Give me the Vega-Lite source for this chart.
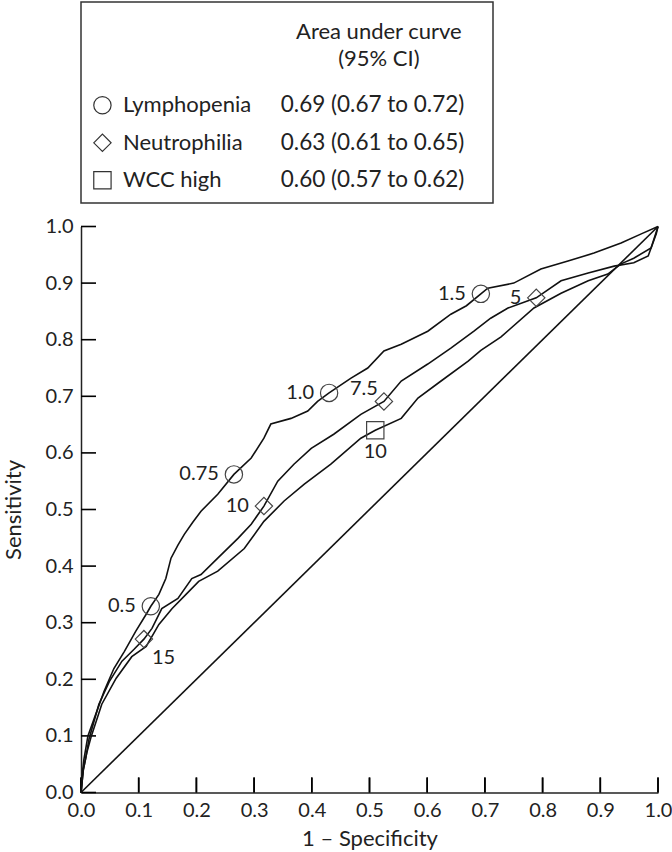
{
  "$schema": "https://vega.github.io/schema/vega-lite/v6.json",
  "padding": {"left": 2, "top": 1, "right": 0, "bottom": 0},
  "background": "white",
  "bounds": "flush",
  "spacing": 23.5,
  "config": {
    "font": "Lato",
    "view": {"stroke": null},
    "text": {"font": "Lato", "fontSize": 20, "color": "#222"}
  },
  "datasets": {
    "diag": [{"x": 0, "y": 0}, {"x": 1, "y": 1}],
    "tickvals": [
      {"v": 0}, {"v": 0.1}, {"v": 0.2}, {"v": 0.3}, {"v": 0.4}, {"v": 0.5},
      {"v": 0.6}, {"v": 0.7}, {"v": 0.8}, {"v": 0.9}, {"v": 1}
    ],
    "table": [
      {"row": 1, "series": "Lymphopenia", "auc": "0.69 (0.67 to 0.72)"},
      {"row": 2, "series": "Neutrophilia", "auc": "0.63 (0.61 to 0.65)"},
      {"row": 3, "series": "WCC high", "auc": "0.60 (0.57 to 0.62)"}
    ],
    "points": [
      {"series": "Lymphopenia", "x": 0.121, "y": 0.329, "label": "0.5"},
      {"series": "Lymphopenia", "x": 0.265, "y": 0.562, "label": "0.75"},
      {"series": "Lymphopenia", "x": 0.43, "y": 0.706, "label": "1.0"},
      {"series": "Lymphopenia", "x": 0.693, "y": 0.881, "label": "1.5"},
      {"series": "Neutrophilia", "x": 0.109, "y": 0.271, "label": "15"},
      {"series": "Neutrophilia", "x": 0.317, "y": 0.506, "label": "10"},
      {"series": "Neutrophilia", "x": 0.525, "y": 0.691, "label": "7.5"},
      {"series": "Neutrophilia", "x": 0.789, "y": 0.874, "label": "5"},
      {"series": "WCC high", "x": 0.51, "y": 0.64, "label": "10"}
    ],
    "curves": [
      {"series": "Lymphopenia", "x": 0, "y": 0},
      {"series": "Lymphopenia", "x": 0.003, "y": 0.04},
      {"series": "Lymphopenia", "x": 0.005, "y": 0.058},
      {"series": "Lymphopenia", "x": 0.012, "y": 0.1},
      {"series": "Lymphopenia", "x": 0.023, "y": 0.131},
      {"series": "Lymphopenia", "x": 0.04, "y": 0.179},
      {"series": "Lymphopenia", "x": 0.057, "y": 0.219},
      {"series": "Lymphopenia", "x": 0.075, "y": 0.249},
      {"series": "Lymphopenia", "x": 0.095, "y": 0.285},
      {"series": "Lymphopenia", "x": 0.113, "y": 0.315},
      {"series": "Lymphopenia", "x": 0.121, "y": 0.329},
      {"series": "Lymphopenia", "x": 0.135, "y": 0.35},
      {"series": "Lymphopenia", "x": 0.147, "y": 0.378},
      {"series": "Lymphopenia", "x": 0.156, "y": 0.414},
      {"series": "Lymphopenia", "x": 0.168, "y": 0.437},
      {"series": "Lymphopenia", "x": 0.179, "y": 0.456},
      {"series": "Lymphopenia", "x": 0.194, "y": 0.478},
      {"series": "Lymphopenia", "x": 0.208, "y": 0.497},
      {"series": "Lymphopenia", "x": 0.237, "y": 0.527},
      {"series": "Lymphopenia", "x": 0.265, "y": 0.562},
      {"series": "Lymphopenia", "x": 0.295, "y": 0.591},
      {"series": "Lymphopenia", "x": 0.317, "y": 0.626},
      {"series": "Lymphopenia", "x": 0.329, "y": 0.651},
      {"series": "Lymphopenia", "x": 0.364, "y": 0.661},
      {"series": "Lymphopenia", "x": 0.393, "y": 0.674},
      {"series": "Lymphopenia", "x": 0.41, "y": 0.691},
      {"series": "Lymphopenia", "x": 0.43, "y": 0.706},
      {"series": "Lymphopenia", "x": 0.468, "y": 0.732},
      {"series": "Lymphopenia", "x": 0.497, "y": 0.75},
      {"series": "Lymphopenia", "x": 0.525, "y": 0.78},
      {"series": "Lymphopenia", "x": 0.555, "y": 0.792},
      {"series": "Lymphopenia", "x": 0.601, "y": 0.815},
      {"series": "Lymphopenia", "x": 0.641, "y": 0.845},
      {"series": "Lymphopenia", "x": 0.668, "y": 0.86},
      {"series": "Lymphopenia", "x": 0.693, "y": 0.881},
      {"series": "Lymphopenia", "x": 0.705, "y": 0.891},
      {"series": "Lymphopenia", "x": 0.75, "y": 0.9},
      {"series": "Lymphopenia", "x": 0.797, "y": 0.925},
      {"series": "Lymphopenia", "x": 0.844, "y": 0.939},
      {"series": "Lymphopenia", "x": 0.889, "y": 0.953},
      {"series": "Lymphopenia", "x": 0.936, "y": 0.971},
      {"series": "Lymphopenia", "x": 0.971, "y": 0.987},
      {"series": "Lymphopenia", "x": 1, "y": 1},
      {"series": "Neutrophilia", "x": 0, "y": 0},
      {"series": "Neutrophilia", "x": 0.004, "y": 0.04},
      {"series": "Neutrophilia", "x": 0.008, "y": 0.06},
      {"series": "Neutrophilia", "x": 0.014, "y": 0.095},
      {"series": "Neutrophilia", "x": 0.031, "y": 0.156},
      {"series": "Neutrophilia", "x": 0.049, "y": 0.196},
      {"series": "Neutrophilia", "x": 0.071, "y": 0.232},
      {"series": "Neutrophilia", "x": 0.092, "y": 0.253},
      {"series": "Neutrophilia", "x": 0.109, "y": 0.271},
      {"series": "Neutrophilia", "x": 0.123, "y": 0.29},
      {"series": "Neutrophilia", "x": 0.14, "y": 0.325},
      {"series": "Neutrophilia", "x": 0.168, "y": 0.343},
      {"series": "Neutrophilia", "x": 0.192, "y": 0.378},
      {"series": "Neutrophilia", "x": 0.208, "y": 0.385},
      {"series": "Neutrophilia", "x": 0.237, "y": 0.414},
      {"series": "Neutrophilia", "x": 0.272, "y": 0.449},
      {"series": "Neutrophilia", "x": 0.295, "y": 0.474},
      {"series": "Neutrophilia", "x": 0.317, "y": 0.506},
      {"series": "Neutrophilia", "x": 0.341, "y": 0.55},
      {"series": "Neutrophilia", "x": 0.369, "y": 0.58},
      {"series": "Neutrophilia", "x": 0.399, "y": 0.608},
      {"series": "Neutrophilia", "x": 0.438, "y": 0.633},
      {"series": "Neutrophilia", "x": 0.485, "y": 0.668},
      {"series": "Neutrophilia", "x": 0.525, "y": 0.691},
      {"series": "Neutrophilia", "x": 0.555, "y": 0.727},
      {"series": "Neutrophilia", "x": 0.601, "y": 0.757},
      {"series": "Neutrophilia", "x": 0.641, "y": 0.785},
      {"series": "Neutrophilia", "x": 0.681, "y": 0.815},
      {"series": "Neutrophilia", "x": 0.71, "y": 0.838},
      {"series": "Neutrophilia", "x": 0.74, "y": 0.856},
      {"series": "Neutrophilia", "x": 0.789, "y": 0.874},
      {"series": "Neutrophilia", "x": 0.832, "y": 0.904},
      {"series": "Neutrophilia", "x": 0.879, "y": 0.918},
      {"series": "Neutrophilia", "x": 0.924, "y": 0.93},
      {"series": "Neutrophilia", "x": 0.958, "y": 0.936},
      {"series": "Neutrophilia", "x": 0.983, "y": 0.948},
      {"series": "Neutrophilia", "x": 0.997, "y": 0.987},
      {"series": "Neutrophilia", "x": 1, "y": 1},
      {"series": "WCC high", "x": 0, "y": 0},
      {"series": "WCC high", "x": 0.004, "y": 0.04},
      {"series": "WCC high", "x": 0.01, "y": 0.07},
      {"series": "WCC high", "x": 0.018, "y": 0.1},
      {"series": "WCC high", "x": 0.036, "y": 0.156},
      {"series": "WCC high", "x": 0.061, "y": 0.202},
      {"series": "WCC high", "x": 0.088, "y": 0.24},
      {"series": "WCC high", "x": 0.113, "y": 0.258},
      {"series": "WCC high", "x": 0.135, "y": 0.297},
      {"series": "WCC high", "x": 0.158, "y": 0.325},
      {"series": "WCC high", "x": 0.182, "y": 0.35},
      {"series": "WCC high", "x": 0.204, "y": 0.373},
      {"series": "WCC high", "x": 0.237, "y": 0.391},
      {"series": "WCC high", "x": 0.283, "y": 0.431},
      {"series": "WCC high", "x": 0.317, "y": 0.479},
      {"series": "WCC high", "x": 0.352, "y": 0.515},
      {"series": "WCC high", "x": 0.387, "y": 0.545},
      {"series": "WCC high", "x": 0.433, "y": 0.58},
      {"series": "WCC high", "x": 0.485, "y": 0.626},
      {"series": "WCC high", "x": 0.51, "y": 0.64},
      {"series": "WCC high", "x": 0.555, "y": 0.661},
      {"series": "WCC high", "x": 0.584, "y": 0.697},
      {"series": "WCC high", "x": 0.624, "y": 0.727},
      {"series": "WCC high", "x": 0.671, "y": 0.762},
      {"series": "WCC high", "x": 0.693, "y": 0.781},
      {"series": "WCC high", "x": 0.728, "y": 0.805},
      {"series": "WCC high", "x": 0.785, "y": 0.856},
      {"series": "WCC high", "x": 0.832, "y": 0.882},
      {"series": "WCC high", "x": 0.879, "y": 0.904},
      {"series": "WCC high", "x": 0.913, "y": 0.916},
      {"series": "WCC high", "x": 0.936, "y": 0.934},
      {"series": "WCC high", "x": 0.958, "y": 0.944},
      {"series": "WCC high", "x": 0.988, "y": 0.962},
      {"series": "WCC high", "x": 1, "y": 1}
    ]
  },
  "vconcat": [
    {
      "width": 412,
      "height": 201,
      "view": {"stroke": "#333", "strokeWidth": 1.5},
      "data": {"name": "table"},
      "layer": [
        {
          "mark": {"type": "point", "filled": false, "stroke": "#333", "strokeWidth": 1.2, "size": 300, "opacity": 1},
          "encoding": {
            "x": {"datum": 0.052, "type": "quantitative", "scale": {"domain": [0, 1], "nice": false, "zero": false}, "axis": null},
            "y": {"field": "row", "type": "quantitative", "scale": {"domain": [-1.755, 3.605], "nice": false, "zero": false, "reverse": true}, "axis": null},
            "shape": {"field": "series", "type": "nominal", "scale": {"domain": ["Lymphopenia", "Neutrophilia", "WCC high"], "range": ["circle", "diamond", "square"]}, "legend": null}
          }
        },
        {
          "mark": {"type": "text", "align": "left", "baseline": "alphabetic", "dy": 7, "fontSize": 22},
          "encoding": {
            "x": {"datum": 0.102, "type": "quantitative"},
            "y": {"field": "row", "type": "quantitative"},
            "text": {"field": "series"}
          }
        },
        {
          "mark": {"type": "text", "align": "left", "baseline": "alphabetic", "dy": 7, "fontSize": 22.5},
          "encoding": {
            "x": {"datum": 0.485, "type": "quantitative"},
            "y": {"field": "row", "type": "quantitative"},
            "text": {"field": "auc"}
          }
        },
        {
          "data": {"values": [{}]},
          "mark": {"type": "text", "align": "center", "baseline": "alphabetic", "lineHeight": 27, "fontSize": 22},
          "encoding": {
            "x": {"datum": 0.723, "type": "quantitative"},
            "y": {"datum": -0.76, "type": "quantitative"},
            "text": {"value": ["Area under curve", "(95% CI)"]}
          }
        }
      ]
    },
    {
      "width": 577,
      "height": 566,
      "layer": [
        {
          "data": {"name": "diag"},
          "mark": {"type": "line", "color": "#111", "strokeWidth": 1.6},
          "encoding": {
            "x": {
              "field": "x", "type": "quantitative",
              "scale": {"domain": [0, 1], "nice": false, "zero": false},
              "axis": {
                "title": "1 – Specificity",
                "values": [0, 0.1, 0.2, 0.3, 0.4, 0.5, 0.6, 0.7, 0.8, 0.9, 1],
                "format": ".1f", "grid": false, "ticks": false, "labelPadding": 8,
                "domainColor": "#222", "domainWidth": 1.5,
                "labelFontSize": 20, "labelColor": "#222", "labelFlush": false, "labelOverlap": false,
                "titleFontSize": 22, "titleFontWeight": "normal", "titleColor": "#222", "titlePadding": 8
              }
            },
            "y": {
              "field": "y", "type": "quantitative",
              "scale": {"domain": [0, 1], "nice": false, "zero": false},
              "axis": {
                "title": "Sensitivity",
                "values": [0, 0.1, 0.2, 0.3, 0.4, 0.5, 0.6, 0.7, 0.8, 0.9, 1],
                "format": ".1f", "grid": false, "ticks": false, "labelPadding": 8,
                "domainColor": "#222", "domainWidth": 1.5,
                "labelFontSize": 20, "labelColor": "#222", "labelFlush": false, "labelOverlap": false,
                "titleFontSize": 22, "titleFontWeight": "normal", "titleColor": "#222", "titlePadding": 20
              }
            }
          }
        },
        {
          "data": {"name": "tickvals"},
          "mark": {"type": "rule", "color": "black", "strokeWidth": 1.6},
          "encoding": {
            "x": {"field": "v", "type": "quantitative"},
            "y": {"datum": 0, "type": "quantitative"},
            "y2": {"datum": 0.0265}
          }
        },
        {
          "data": {"name": "tickvals"},
          "mark": {"type": "tick", "color": "black", "thickness": 1.6, "size": 15, "orient": "vertical", "opacity": 1},
          "encoding": {
            "x": {"field": "v", "type": "quantitative"},
            "y": {"datum": 0.01325, "type": "quantitative"}
          }
        },
        {
          "data": {"name": "tickvals"},
          "mark": {"type": "tick", "color": "black", "thickness": 1.6, "size": 15, "orient": "horizontal", "opacity": 1},
          "encoding": {
            "y": {"field": "v", "type": "quantitative"},
            "x": {"datum": 0.013, "type": "quantitative"}
          }
        },
        {
          "data": {"name": "curves"},
          "mark": {"type": "line", "color": "#111", "strokeWidth": 1.6},
          "encoding": {
            "x": {"field": "x", "type": "quantitative"},
            "y": {"field": "y", "type": "quantitative"},
            "detail": {"field": "series", "type": "nominal"}
          }
        },
        {
          "data": {"name": "points"},
          "mark": {"type": "point", "filled": false, "stroke": "#444", "strokeWidth": 1.2, "size": 300, "opacity": 1},
          "encoding": {
            "x": {"field": "x", "type": "quantitative"},
            "y": {"field": "y", "type": "quantitative"},
            "shape": {"field": "series", "type": "nominal", "scale": {"domain": ["Lymphopenia", "Neutrophilia", "WCC high"], "range": ["circle", "diamond", "square"]}, "legend": null}
          }
        },
        {
          "data": {"name": "points"},
          "transform": [{"filter": "datum.label != '7.5' && datum.label != '15' && datum.series != 'WCC high'"}],
          "mark": {"type": "text", "align": "right", "baseline": "middle", "dx": -15},
          "encoding": {
            "x": {"field": "x", "type": "quantitative"},
            "y": {"field": "y", "type": "quantitative"},
            "text": {"field": "label"}
          }
        },
        {
          "data": {"name": "points"},
          "transform": [{"filter": "datum.label == '7.5'"}],
          "mark": {"type": "text", "align": "right", "baseline": "middle", "dx": -6, "dy": -12},
          "encoding": {
            "x": {"field": "x", "type": "quantitative"},
            "y": {"field": "y", "type": "quantitative"},
            "text": {"field": "label"}
          }
        },
        {
          "data": {"name": "points"},
          "transform": [{"filter": "datum.label == '15'"}],
          "mark": {"type": "text", "align": "left", "baseline": "middle", "dx": 8, "dy": 19},
          "encoding": {
            "x": {"field": "x", "type": "quantitative"},
            "y": {"field": "y", "type": "quantitative"},
            "text": {"field": "label"}
          }
        },
        {
          "data": {"name": "points"},
          "transform": [{"filter": "datum.series == 'WCC high'"}],
          "mark": {"type": "text", "align": "center", "baseline": "middle", "dy": 22},
          "encoding": {
            "x": {"field": "x", "type": "quantitative"},
            "y": {"field": "y", "type": "quantitative"},
            "text": {"field": "label"}
          }
        }
      ]
    }
  ]
}
